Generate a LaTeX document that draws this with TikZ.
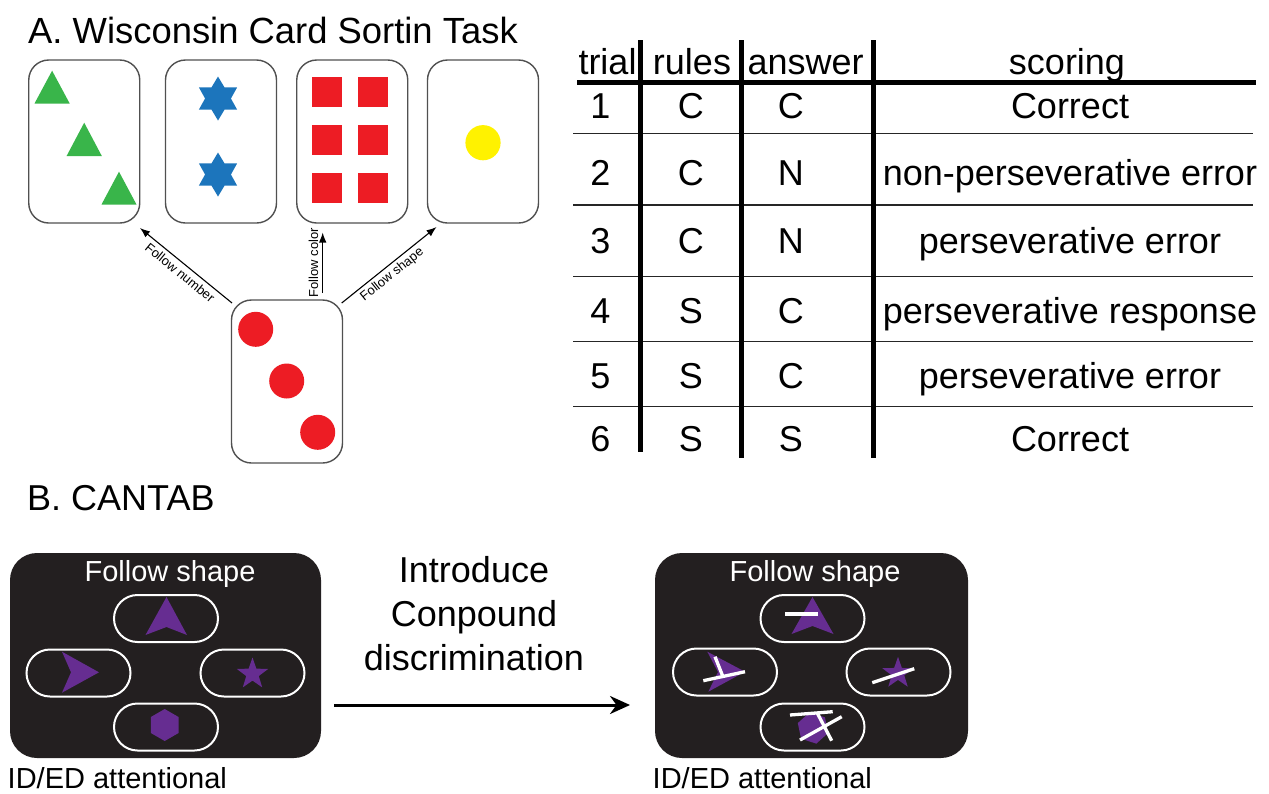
\documentclass[tikz,border=0pt]{standalone}
\usepackage{fontspec}
\setmainfont{Liberation Sans}
\usetikzlibrary{arrows.meta,calc,shapes.geometric}
\definecolor{cgreen}{HTML}{39B54A}
\definecolor{cblue}{HTML}{1C75BC}
\definecolor{cred}{HTML}{ED1C24}
\definecolor{cyellow}{HTML}{FFF200}
\definecolor{cpurple}{HTML}{662D91}
\definecolor{cdark}{HTML}{231F20}
\definecolor{cedge}{HTML}{505050}
\begin{document}
\begin{tikzpicture}[x=1pt,y=-1pt,
  card/.style={draw=cedge, line width=1.4pt, rounded corners=20pt, fill=white,
    minimum width=111pt, minimum height=163pt, inner sep=0pt},
  lab/.style={font=\fontsize{13}{15}\selectfont, inner sep=1pt},
  smallarrow/.style={line width=1.1pt, -{Latex[length=10pt,width=7.5pt]}},
  big/.style={font=\fontsize{36}{44}\selectfont, inner sep=0pt},
  tab/.style={font=\fontsize{36}{40}\selectfont, anchor=base, inner sep=0pt},
  hline/.style={line width=1.5pt, draw=black!85},
  vline/.style={line width=5pt},
  blackbox/.style={fill=cdark, rounded corners=27pt, minimum height=205pt, inner sep=0pt},
  pill/.style={draw=white, line width=2pt, rounded corners=23.5pt,
    minimum width=104pt, minimum height=47pt, inner sep=0pt},
  cue/.style={font=\fontsize{29}{34}\selectfont, anchor=base, inner sep=0pt},
  wline/.style={draw=white, line width=3.3pt},
  pstar/.style={star, star points=5, star point ratio=2.5, fill=cpurple,
    minimum size=33pt, inner sep=0pt},
  phex/.style={regular polygon, regular polygon sides=6, fill=cpurple,
    minimum size=32pt, inner sep=0pt}
]
\useasboundingbox[fill=white] (0,0) rectangle (1269,793);

% ---------- Part A ----------
\node[big, anchor=base west, font=\fontsize{36.4}{44}\selectfont] (titleA) at (28,43.3) {A. Wisconsin Card Sortin Task};

\node[card] (c1) at (84.25,141.5) {};
\node[card] (c2) at (221,141.5) {};
\node[card] (c3) at (352.25,141.5) {};
\node[card] (c4) at (483,141.5) {};
\node[card] (c0) at (287,381.5) {};

% card 1: three green triangles
\fill[cgreen] (34.5,103.5) -- (52.1,70.7) -- (69.7,103.5) -- cycle;
\fill[cgreen] (66.6,156) -- (84.2,122.7) -- (101.8,156) -- cycle;
\fill[cgreen] (101.5,204.5) -- (119,171.7) -- (136.5,204.5) -- cycle;

% card 2: two blue six-pointed stars
\node[star, star points=6, star point ratio=1.7, fill=cblue, minimum size=44pt, inner sep=0pt] (s1) at (218,98.5) {};
\node[star, star points=6, star point ratio=1.7, fill=cblue, minimum size=44pt, inner sep=0pt] (s2) at (218,174.5) {};

% card 3: six red squares
\foreach \xx in {312,358}
  \foreach \yy in {77,125,173.3}
    \fill[cred] (\xx,\yy) rectangle ++(29.8,29.5);

% card 4: yellow circle
\fill[cyellow] (483,142.7) circle[radius=17.6];

% bottom card: three red circles
\fill[cred] (255.7,329.3) circle[radius=17.5];
\fill[cred] (286.7,381) circle[radius=17.5];
\fill[cred] (317.7,432.3) circle[radius=17.5];

% arrows
\coordinate (nS) at (232,303);
\coordinate (nE) at (140,228);
\coordinate (cS) at (322.7,293);
\coordinate (cE) at (322.7,232.5);
\coordinate (sS) at (341.7,303);
\coordinate (sE) at (436.5,227);
\draw[smallarrow] (nS) -- node[lab, sloped, below=3pt, pos=0.5] (lnum) {Follow number} (nE);
\draw[smallarrow] (cS) -- node[lab, sloped, above=3pt, pos=0.5] (lcol) {Follow color} (cE);
\draw[smallarrow] (sS) -- node[lab, sloped, below=2pt, pos=0.47] (lsha) {Follow shape} (sE);

% ---------- Table ----------
\draw[line width=5pt] (577,82) -- (1256,82);
\foreach \yy in {133.3,205,276.7,341.7,406.7}
  \draw[hline] (573,\yy) -- (1252.7,\yy);
\draw[vline] (640.7,40) -- (640.7,452);
\draw[vline] (741.7,40) -- (741.7,458);
\draw[vline] (873.3,40) -- (873.3,458);

\node[tab] (h1) at (607.5,74) {trial};
\node[tab] (h2) at (692,74) {rules};
\node[tab] (h3) at (805.7,74) {answer};
\node[tab] (h4) at (1067,74) {scoring};

\node[tab] (r1a) at (600.5,118.5) {1};
\node[tab] (r1b) at (690.8,118.5) {C};
\node[tab] (r1c) at (790.8,118.5) {C};
\node[tab] (r1d) at (1070,118.5) {Correct};

\node[tab] (r2a) at (600.5,185.5) {2};
\node[tab] (r2b) at (690.8,185.5) {C};
\node[tab] (r2c) at (790.8,185.5) {N};
\node[tab] (r2d) at (1070,185.5) {non-perseverative error};

\node[tab] (r3a) at (600.5,253.5) {3};
\node[tab] (r3b) at (690.8,253.5) {C};
\node[tab] (r3c) at (790.8,253.5) {N};
\node[tab] (r3d) at (1070,253.5) {perseverative error};

\node[tab] (r4a) at (600.5,323) {4};
\node[tab] (r4b) at (690.8,323) {S};
\node[tab] (r4c) at (790.8,323) {C};
\node[tab] (r4d) at (1070,323) {perseverative response};

\node[tab] (r5a) at (600.5,388.5) {5};
\node[tab] (r5b) at (690.8,388.5) {S};
\node[tab] (r5c) at (790.8,388.5) {C};
\node[tab] (r5d) at (1070,388.5) {perseverative error};

\node[tab] (r6a) at (600.5,451) {6};
\node[tab] (r6b) at (690.8,451) {S};
\node[tab] (r6c) at (790.8,451) {S};
\node[tab] (r6d) at (1070,451) {Correct};

% ---------- Part B ----------
\node[big, anchor=base west] (titleB) at (27,510.5) {B. CANTAB};

% left screen
\node[blackbox, minimum width=311pt] (boxL) at (165.5,655.5) {};
\node[cue, text=white] (cueL) at (170,581) {Follow shape};
\node[pill] (pLt) at (166,618.5) {};
\node[pill] (pLl) at (78.5,673) {};
\node[pill] (pLr) at (252.5,673) {};
\node[pill] (pLb) at (166,727) {};
\fill[cpurple] (145.5,635) -- (166.5,597) -- (187,635) -- (166.5,627) -- cycle;
\fill[cpurple] (62,651.7) -- (99,672.3) -- (62,692.7) -- (71,672.3) -- cycle;
\node[pstar] (stL) at (252.5,674) {};
\node[phex, rotate=30] (hxL) at (164.7,725) {};
\node[cue, anchor=base west] (idL) at (7.5,788) {ID/ED attentional};

% arrow between screens
\coordinate (aS) at (334,705);
\coordinate (aE) at (630,705);
\draw[line width=3pt, -{Stealth[length=20pt,width=18pt]}] (aS) -- (aE);
\node[big, align=center, anchor=north] (intro) at (474,555.8) {Introduce\\Conpound\\discrimination};

% right screen
\node[blackbox, minimum width=313pt] (boxR) at (811.5,655.5) {};
\node[cue, text=white] (cueR) at (815,581) {Follow shape};
\node[pill] (pRt) at (812.5,618.5) {};
\node[pill] (pRl) at (725,672) {};
\node[pill] (pRr) at (898.5,672) {};
\node[pill] (pRb) at (812.5,727) {};
\fill[cpurple] (791.5,634) -- (812.5,597) -- (833.5,634) -- (812.5,626) -- cycle;
\draw[wline] (785,614) -- (818.3,614);
\fill[cpurple] (707.3,651.7) -- (745,671.7) -- (708.3,691.7) -- (718,672) -- cycle;
\draw[wline] (715,656.7) -- (722.7,676);
\draw[wline] (703.3,680.7) -- (745,671.7);
\node[pstar] (stR) at (898,673.3) {};
\draw[wline] (872.3,682.7) -- (914.3,668.7);
\node[phex, rotate=42] (hxR) at (813,728) {};
\draw[wline] (790,715) -- (832.7,711.7);
\draw[wline] (800,740) -- (841.7,716.7);
\draw[wline] (817.5,713.5) -- (831.7,740.7);
\node[cue, anchor=base west] (idR) at (652.5,788) {ID/ED attentional};
\end{tikzpicture}
\end{document}
